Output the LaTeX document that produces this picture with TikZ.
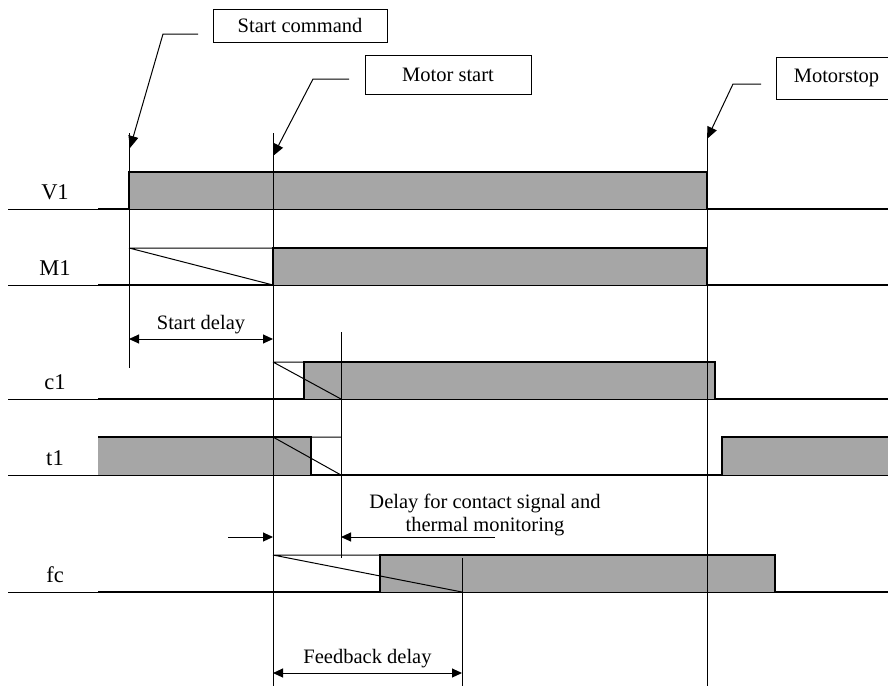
\documentclass[tikz,border=0pt]{standalone}
\usepackage{fontspec}
\setmainfont{Liberation Serif}
\usetikzlibrary{arrows.meta}
\definecolor{sigfill}{RGB}{166,166,166}

\begin{document}
\begin{tikzpicture}[x=1pt,y=-1pt,
    fine/.style={line width=1pt},
    sigline/.style={line width=2.2pt,line join=miter},
    tag/.style={draw,line width=1pt,inner sep=0pt},
    marker/.style={line width=1pt,-{Triangle[length=12pt,width=10pt]}},
    dimline/.style={line width=1pt,{Triangle[length=10pt,width=9pt]}-{Triangle[length=10pt,width=9pt]}},
    signame/.style={anchor=base,font=\fontsize{22.5}{26}\selectfont},
    every node/.style={font=\fontsize{20.5}{23}\selectfont}]
      \useasboundingbox (0,0) rectangle (888,686);
      \clip (0,0) rectangle (888,686);
      % grey fills
      \fill[sigfill] (129,172) rectangle (707,209);
      \fill[sigfill] (273,248) rectangle (707,285);
      \fill[sigfill] (304,362) rectangle (715,399);
      \fill[sigfill] (98,437) rectangle (311,475);
      \fill[sigfill] (722,437) rectangle (890,475);
      \fill[sigfill] (380,555) rectangle (775,592);
      % base lines and names
      \foreach \y/\name in {209/V1,285/M1,399/c1,475/t1,592/fc}{
        \draw[fine] (8,\y) -- (888,\y);
        \node[signame] (lbl-\name) at (55,\y-10) {\name};
      }
      % delay ramps
      \draw[fine] (129,248) -- (273,248) (129,248) -- (273,285);
      \draw[fine] (273,362) -- (341,362) (273,362) -- (341,399);
      \draw[fine] (273,437) -- (341,437) (273,437) -- (341,475);
      \draw[fine] (273,555) -- (462,555) (273,555) -- (462,592);
      % signals
      \draw[sigline] (98,209) -- (129,209) -- (129,172) -- (707,172) -- (707,209) -- (890,209);
      \draw[sigline] (98,285) -- (273,285) -- (273,248) -- (707,248) -- (707,285) -- (890,285);
      \draw[sigline] (98,399) -- (304,399) -- (304,362) -- (715,362) -- (715,399) -- (890,399);
      \draw[sigline] (98,437) -- (311,437) -- (311,475) -- (722,475) -- (722,437) -- (890,437);
      \draw[sigline] (98,592) -- (380,592) -- (380,555) -- (775,555) -- (775,592) -- (890,592);
      % time marks
      \draw[fine] (129,133) -- (129,368);
      \draw[fine] (273,133) -- (273,686);
      \draw[fine] (707,138) -- (707,686);
      \draw[fine] (341,332) -- (341,558);
      \draw[fine] (462,558) -- (462,686);
      % event tags
      \node[tag,minimum width=174pt,minimum height=33pt] (cmd) at (300,25.5) {Start command};
      \node[tag,minimum width=166pt,minimum height=39pt] (mstart) at (448,74.5) {Motor start};
      \node[tag,minimum width=120pt,minimum height=42pt,anchor=west] (mstop) at (776,78) {Motorstop};
      \coordinate (cmd-a) at (198,34);
      \coordinate (cmd-b) at (163,34);
      \coordinate (cmd-c) at (130,148);
      \coordinate (mstart-a) at (349,79);
      \coordinate (mstart-b) at (313,79);
      \coordinate (mstart-c) at (273,156);
      \coordinate (mstop-a) at (761,84);
      \coordinate (mstop-b) at (733,84);
      \coordinate (mstop-c) at (707,139);
      \draw[marker] (cmd-a) -- (cmd-b) -- (cmd-c);
      \draw[marker] (mstart-a) -- (mstart-b) -- (mstart-c);
      \draw[marker] (mstop-a) -- (mstop-b) -- (mstop-c);
      % delays
      \coordinate (sd-l) at (129,339);
      \coordinate (sd-r) at (273,339);
      \draw[dimline] (sd-l) -- node[above=1pt] (sd-txt) {Start delay} (sd-r);
      \coordinate (cs-l0) at (228,537);
      \coordinate (cs-l) at (273,537);
      \coordinate (cs-r0) at (495,537);
      \coordinate (cs-r) at (341,537);
      \draw[marker,-{Triangle[length=10pt,width=9pt]}] (cs-l0) -- (cs-l);
      \draw[marker,-{Triangle[length=10pt,width=9pt]}] (cs-r0) -- (cs-r);
      \node[align=center,anchor=south,inner sep=0pt] (cs-txt) at (485,536)
        {Delay for contact signal and\\thermal monitoring};
      \coordinate (fb-l) at (273,673);
      \coordinate (fb-r) at (462,673);
      \draw[dimline] (fb-l) -- node[above=1pt] (fb-txt) {Feedback delay} (fb-r);
    \end{tikzpicture}
\end{document}
